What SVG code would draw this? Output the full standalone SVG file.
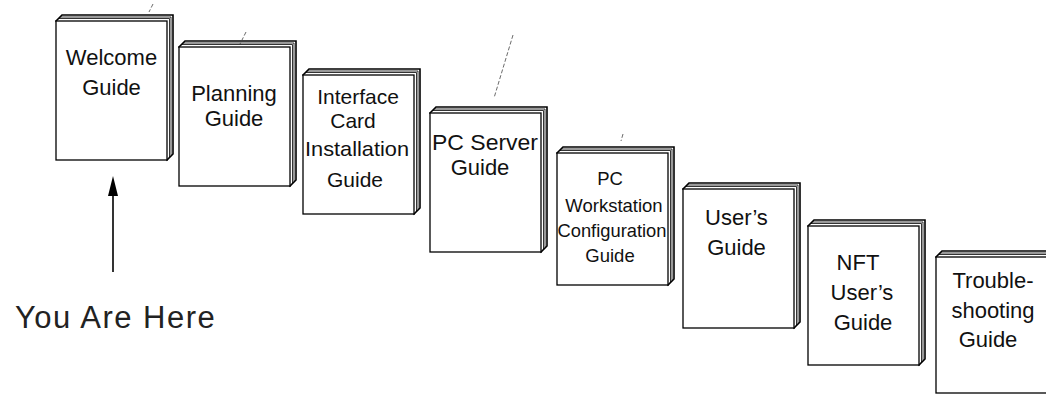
<svg xmlns="http://www.w3.org/2000/svg" width="1046" height="395" viewBox="0 0 1046 395">
  <defs>
    <style>
      .front { fill: #fff; stroke: #000; stroke-width: 1.3; }
      .back { fill: #fff; stroke: #000; stroke-width: 1.6; stroke-linejoin: miter; }
      .page { fill: none; stroke: #000; stroke-width: 0.8; }
      .lbl { font-family: "Liberation Sans", Arial, sans-serif; font-size: 22px; fill: #111; text-anchor: middle; }
      .md { font-size: 21px; }
      .sm { font-size: 18.5px; }
      .tick { stroke: #444; stroke-width: 0.8; stroke-dasharray: 4 2; fill: none; }
      .big { font-family: "Liberation Sans", Arial, sans-serif; font-size: 31px; fill: #222; letter-spacing: 1.5px; }
    </style>
    <!-- a closed book: spine slab behind, then the cover -->
    <g id="book">
      <path class="back" d="M0,0 L6,-6 L117,-6 L117,133 L111,139 Z"/>
      <path class="page" d="M2.5,-2.5 L113.5,-2.5 L113.5,136"/>
      <path class="page" d="M4,-4 L115,-4 L115,134.5"/>
      <rect class="front" x="0" y="0" width="111" height="139"/>
    </g>
    <g id="book-short">
      <path class="back" d="M0,0 L6,-6 L117,-6 L117,126 L111,132 Z"/>
      <path class="page" d="M2.5,-2.5 L113.5,-2.5 L113.5,129"/>
      <path class="page" d="M4,-4 L115,-4 L115,127.5"/>
      <rect class="front" x="0" y="0" width="111" height="132"/>
    </g>
    <g id="book-last">
      <path class="back" d="M0,0 L6,-6 L117,-6 L117,130 L111,136 Z"/>
      <path class="page" d="M2.5,-2.5 L113.5,-2.5 L113.5,133"/>
      <path class="page" d="M4,-4 L115,-4 L115,131.5"/>
      <rect class="front" x="0" y="0" width="111" height="136"/>
    </g>
  </defs>

  <rect width="1046" height="395" fill="#fff"/>

  <g id="welcome">
    <use href="#book" x="56" y="21"/>
    <text class="lbl" x="111.5" y="65">Welcome</text>
    <text class="lbl" x="111.5" y="95">Guide</text>
  </g>

  <g id="planning">
    <use href="#book" x="179" y="47"/>
    <text class="lbl" x="234" y="101">Planning</text>
    <text class="lbl" x="234" y="126">Guide</text>
  </g>

  <g id="interface">
    <use href="#book" x="303" y="75"/>
    <text class="lbl md" x="358" y="104">Interface</text>
    <text class="lbl md" x="353" y="128">Card</text>
    <text class="lbl md" x="357" y="156" textLength="104" lengthAdjust="spacingAndGlyphs">Installation</text>
    <text class="lbl md" x="355" y="187">Guide</text>
  </g>

  <g id="pc-server">
    <use href="#book" x="430" y="113"/>
    <text class="lbl" x="485" y="150" textLength="106" lengthAdjust="spacingAndGlyphs">PC Server</text>
    <text class="lbl" x="480" y="175">Guide</text>
  </g>

  <g id="pc-workstation">
    <use href="#book-short" x="557" y="153"/>
    <text class="lbl sm" x="610" y="185">PC</text>
    <text class="lbl sm" x="614" y="212">Workstation</text>
    <text class="lbl sm" x="612" y="237" textLength="109" lengthAdjust="spacingAndGlyphs">Configuration</text>
    <text class="lbl sm" x="610" y="262">Guide</text>
  </g>

  <g id="users-guide">
    <use href="#book" x="683" y="189"/>
    <text class="lbl" x="736.5" y="225">User’s</text>
    <text class="lbl" x="736.5" y="255">Guide</text>
  </g>

  <g id="nft-users-guide">
    <use href="#book" x="808" y="226"/>
    <text class="lbl" x="858" y="270">NFT</text>
    <text class="lbl" x="862" y="300">User’s</text>
    <text class="lbl" x="863" y="330">Guide</text>
  </g>

  <g id="troubleshooting">
    <use href="#book-last" x="936" y="257"/>
    <text class="lbl" x="993" y="288">Trouble-</text>
    <text class="lbl" x="993" y="318">shooting</text>
    <text class="lbl" x="988" y="347">Guide</text>
  </g>

  <!-- pointer and faint leader strokes -->
  <g id="connectors">
    <line x1="113" y1="272" x2="113" y2="192" stroke="#000" stroke-width="1.6"/>
    <polygon points="113,176 108,196 118,196" fill="#000"/>
    <line class="tick" x1="153" y1="4" x2="149" y2="12"/>
    <line class="tick" x1="246" y1="32" x2="240" y2="44"/>
    <line class="tick" x1="513" y1="35" x2="494" y2="98"/>
    <line class="tick" x1="623" y1="134" x2="621" y2="141"/>
  </g>

  <text class="big" x="15" y="328">You Are Here</text>
</svg>
